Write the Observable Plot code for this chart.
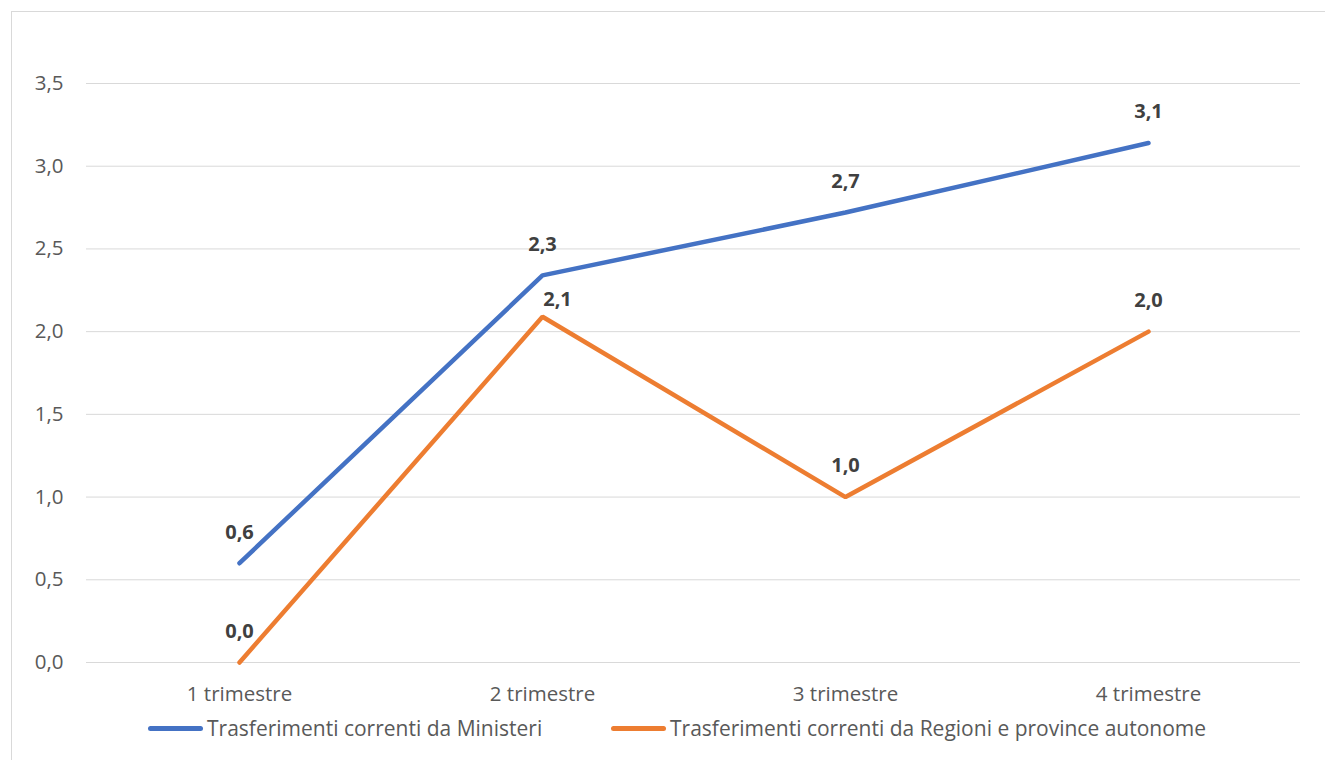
<!DOCTYPE html>
<html>
<head>
<meta charset="utf-8">
<script src="https://cdn.jsdelivr.net/npm/d3@7"></script>
<script src="https://cdn.jsdelivr.net/npm/@observablehq/plot@0.6"></script>
<style>
  html, body { margin: 0; padding: 0; background: #fff; overflow: hidden; width: 1325px; height: 760px; }
  #frame { position: absolute; left: 11px; top: 11px; width: 1400px; height: 800px; border-left: 1px solid #d9d9d9; border-top: 1px solid #d9d9d9; }
  #chart { position: absolute; left: 0; top: 0; }
  #legend { position: absolute; left: 0; top: 714px; width: 1325px; height: 28px; font-family: "Open Sans", sans-serif; font-size: 21px; color: #595959; }
  .item { position: absolute; top: 0; display: flex; align-items: center; height: 28px; white-space: nowrap; }
  .swatch { width: 55px; height: 5px; border-radius: 3px; margin-right: 4px; }
</style>
</head>
<body>
<div id="frame"></div>
<div id="chart"></div>
<div id="legend"></div>
<script>
const categories = ["1 trimestre", "2 trimestre", "3 trimestre", "4 trimestre"];
const seriesNames = ["Trasferimenti correnti da Ministeri", "Trasferimenti correnti da Regioni e province autonome"];
const ministeri = [0.6, 2.34, 2.72, 3.14];
const regioni = [0.0, 2.09, 1.0, 2.0];
const yTicks = [0, 0.5, 1, 1.5, 2, 2.5, 3, 3.5];
const colors = ["#4472C4", "#ED7D31"];

const fmt = v => v.toFixed(1).replace(".", ",");

const rows = [];
categories.forEach((c, i) => {
  rows.push({cat: c, value: ministeri[i], series: seriesNames[0]});
  rows.push({cat: c, value: regioni[i], series: seriesNames[1]});
});

const shifted = d => d.series === seriesNames[1] && d.cat === categories[1];

const font = '"Open Sans", sans-serif';

const chart = Plot.plot({
  width: 1325,
  height: 710,
  marginLeft: 86,
  marginRight: 25,
  marginTop: 83,
  marginBottom: 48,
  style: {fontFamily: font, fontSize: "20.5px", color: "#595959", background: "transparent"},
  x: {type: "point", domain: categories, padding: 0.5, label: null, tickSize: 0, tickPadding: 24},
  y: {domain: [0, 3.5], ticks: yTicks, tickFormat: fmt, label: null, tickSize: 0, tickPadding: 23},
  color: {domain: seriesNames, range: colors},
  marks: [
    Plot.ruleY(yTicks, {stroke: "#d9d9d9", strokeWidth: 1}),
    Plot.line(rows, {x: "cat", y: "value", z: "series", stroke: "series", strokeWidth: 4.5, strokeLinecap: "round", strokeLinejoin: "miter"}),
    Plot.text(rows.filter(d => !shifted(d)), {x: "cat", y: "value", text: d => fmt(d.value), dy: -31, fontWeight: "bold", fontSize: 20, fill: "#404040"}),
    Plot.text(rows.filter(shifted), {x: "cat", y: "value", text: d => fmt(d.value), dx: 15, dy: -17, fontWeight: "bold", fontSize: 20, fill: "#404040"})
  ]
});
document.getElementById("chart").appendChild(chart);

const legend = document.getElementById("legend");
const lefts = [148, 611];
seriesNames.forEach((name, i) => {
  const item = document.createElement("div");
  item.className = "item";
  item.style.left = lefts[i] + "px";
  const sw = document.createElement("div");
  sw.className = "swatch";
  sw.style.background = colors[i];
  const t = document.createElement("span");
  t.textContent = name;
  item.appendChild(sw);
  item.appendChild(t);
  legend.appendChild(item);
});
</script>
</body>
</html>
